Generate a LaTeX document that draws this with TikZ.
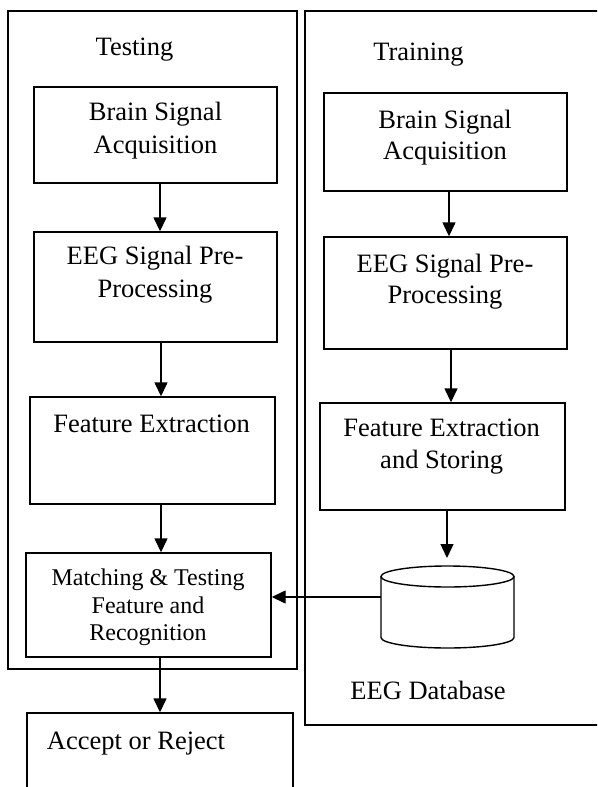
\documentclass[tikz,border=0pt]{standalone}
\usepackage{fontspec}
\setmainfont{Liberation Serif}
\usetikzlibrary{arrows.meta,calc}
\begin{document}
\begin{tikzpicture}[x=1pt,y=-1pt,
  box/.style={draw,line width=1.4pt,rectangle,inner sep=0pt},
  frame/.style={draw,line width=1.6pt,rectangle,inner sep=0pt},
  txt/.style={anchor=base,inner sep=0pt,font=\fontsize{26.5}{32}\selectfont},
  stxt/.style={anchor=base,inner sep=0pt,font=\fontsize{24}{28}\selectfont},
  arr/.style={line width=1.4pt,-{Triangle[length=14pt,width=13pt]}}]
\useasboundingbox (0,0) rectangle (597,787);
\clip (0,0) rectangle (597,787);

% frames
\node[frame,minimum width=289pt,minimum height=658pt] (testing) at (152.5,340) {};
\node[frame,minimum width=305pt,minimum height=714pt] (training) at (457.5,368) {};
\node[txt] (testinglbl) at (134.5,55) {Testing};
\node[txt] (traininglbl) at (418.5,60) {Training};

% testing boxes
\node[box,minimum width=243pt,minimum height=96pt] (tb1) at (155.5,135) {};
\node[box,minimum width=243pt,minimum height=110pt] (tb2) at (155.5,287) {};
\node[box,minimum width=245pt,minimum height=107pt] (tb3) at (152.5,450.5) {};
\node[box,minimum width=245pt,minimum height=104pt] (tm) at (148.5,605) {};
\node[box,minimum width=266pt,minimum height=107pt] (ta) at (160,766.5) {};

\node[txt] (tb1a) at (155.5,120) {Brain Signal};
\node[txt] (tb1b) at (155.5,153) {Acquisition};
\node[txt] (tb2a) at (155,264) {EEG Signal Pre-};
\node[txt] (tb2b) at (155,297) {Processing};
\node[txt] (tb3a) at (151.5,432) {Feature Extraction};
\node[stxt] (tma) at (148,585) {Matching \& Testing};
\node[stxt] (tmb) at (148,613) {Feature and};
\node[stxt] (tmc) at (148,640) {Recognition};
\node[txt] (taa) at (136,749) {Accept or Reject};

% training boxes
\node[box,minimum width=243pt,minimum height=98pt] (rb1) at (445.5,142) {};
\node[box,minimum width=243pt,minimum height=112pt] (rb2) at (445.5,293) {};
\node[box,minimum width=245pt,minimum height=107pt] (rb3) at (442.5,456.5) {};

\node[txt] (rb1a) at (445,128) {Brain Signal};
\node[txt] (rb1b) at (445,159) {Acquisition};
\node[txt] (rb2a) at (445,272) {EEG Signal Pre-};
\node[txt] (rb2b) at (445,303) {Processing};
\node[txt] (rb3a) at (441.7,436) {Feature Extraction};
\node[txt] (rb3b) at (441.7,468) {and Storing};

% database cylinder
\draw[line width=1.4pt] (381,576.5) -- (381,637.5)
  arc[start angle=180,end angle=0,x radius=66.5,y radius=10.5] -- (514,576.5);
\draw[line width=1.4pt] (447.5,576.5) ellipse [x radius=66.5,y radius=10.5];
\coordinate (dbL) at (381,597);
\coordinate (dbT) at (447,566);
\node[txt] (dblbl) at (428,699) {EEG Database};

% arrows
\draw[arr] ([xshift=4.5pt]tb1.south) -- ([xshift=4.5pt]tb1.south |- tb2.north);
\draw[arr] ([xshift=5.5pt]tb2.south) -- ([xshift=5.5pt]tb2.south |- tb3.north);
\draw[arr] ([xshift=8.5pt]tb3.south) -- ([xshift=8.5pt]tb3.south |- tm.north);
\draw[arr] ([xshift=11.5pt]tm.south) -- ([xshift=11.5pt]tm.south |- ta.north);
\draw[arr] ([xshift=3.5pt]rb1.south) -- ([xshift=3.5pt]rb1.south |- rb2.north);
\draw[arr] ([xshift=5.5pt]rb2.south) -- ([xshift=5.5pt]rb2.south |- rb3.north);
\draw[arr,shorten >=8pt] ([xshift=4.5pt]rb3.south) -- (dbT);
\draw[arr] (dbL) -- (dbL -| tm.east);
\end{tikzpicture}
\end{document}
